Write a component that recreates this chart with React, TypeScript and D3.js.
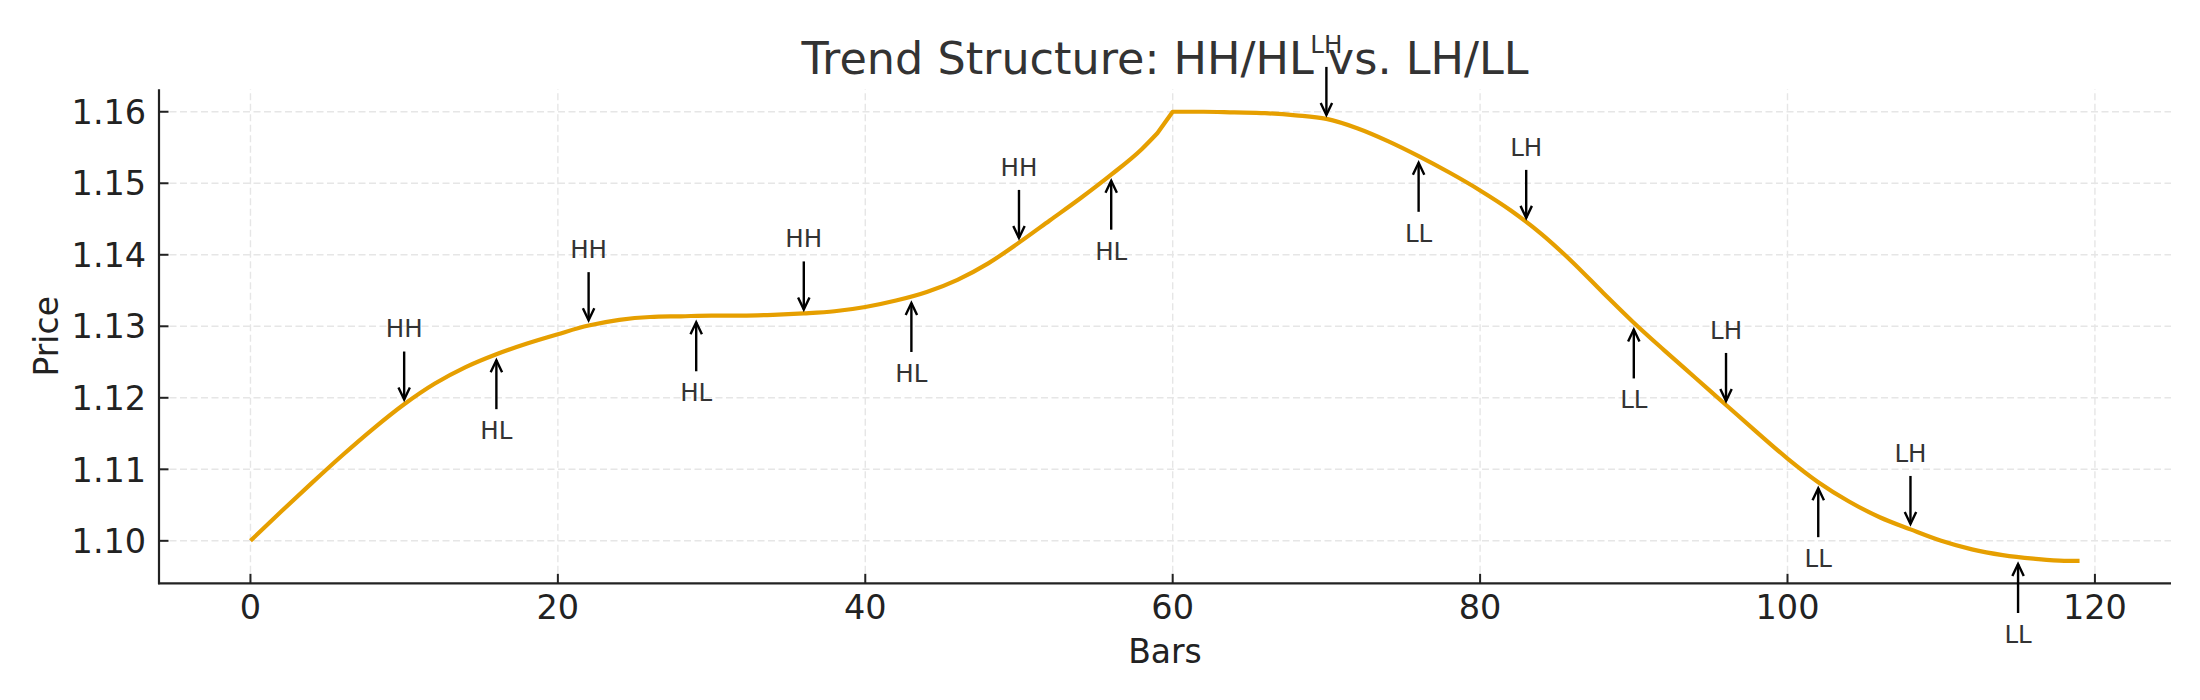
import { useEffect, useRef } from "react";
import * as d3 from "d3";

// Price series (bar index -> price)
const BARS = [
  0, 2, 4, 6, 8, 10, 12, 14, 16, 18, 20, 22, 24, 26, 28, 30, 32, 34, 36, 38,
  40, 42, 44, 46, 48, 50, 52, 54, 56, 58, 59,
  60, 62, 64, 66, 68, 70, 72, 74, 76, 78, 80, 82, 84, 86, 88, 90, 92, 94, 96,
  98, 100, 102, 104, 106, 108, 110, 112, 114, 116, 118, 119,
];
const PRICES = [
  1.1000, 1.1041, 1.1081, 1.1120, 1.1157, 1.1191, 1.1220, 1.1243, 1.1261, 1.1276,
  1.1289, 1.1301, 1.1309, 1.1313, 1.1314, 1.1315, 1.1315, 1.1316, 1.1318, 1.1321,
  1.1327, 1.1336, 1.1348, 1.1365, 1.1388, 1.1417, 1.1448, 1.1479, 1.1512, 1.1548, 1.1570,
  1.1600, 1.1600, 1.1599, 1.1598, 1.1595, 1.1590, 1.1577, 1.1559, 1.1538, 1.1515,
  1.1490, 1.1462, 1.1429, 1.1390, 1.1347, 1.1305, 1.1266, 1.1228, 1.1190,
  1.1152, 1.1115, 1.1082, 1.1055, 1.1033, 1.1016, 1.1000, 1.0988, 1.0980, 1.0975, 1.0972, 1.0972,
];
const PEAK_INDEX = 31; // bar 60, where the down leg starts

// Swing annotations
const PIVOT_BARS = [10, 16, 22, 29, 36, 43, 50, 56, 70, 76, 83, 90, 96, 102, 108, 115];
const PIVOT_LABELS = [
  "HH", "HL", "HH", "HL", "HH", "HL", "HH", "HL",
  "LH", "LL", "LH", "LL", "LH", "LL", "LH", "LL",
];
const PIVOT_PRICES = [
  1.1192, 1.1261, 1.1303, 1.1314, 1.1318, 1.1341, 1.1418, 1.1512,
  1.1590, 1.1537, 1.1446, 1.1304, 1.1190, 1.1082, 1.1018, 1.0976,
];

const X_TICKS = [0, 20, 40, 60, 80, 100, 120];
const Y_TICKS = [1.10, 1.11, 1.12, 1.13, 1.14, 1.15, 1.16];

const TITLE = "Trend Structure: HH/HL vs. LH/LL";
const X_LABEL = "Bars";
const Y_LABEL = "Price";

const W = 2200, H = 700;
const FONT = "'DejaVu Sans', 'Liberation Sans', sans-serif";
const LINE_COLOR = "#E69F00";

export default function App() {
  const svgRef = useRef<SVGSVGElement>(null);

  useEffect(() => {
    document.body.style.margin = "0";
    if (!svgRef.current) return;
    const svg = d3.select(svgRef.current);
    svg.selectAll("*").remove();

    const margin = { top: 89.3, right: W - 2171, bottom: H - 583.3, left: 159 };
    const x0 = margin.left, x1 = W - margin.right;
    const y0 = H - margin.bottom, y1 = margin.top;

    // matplotlib-style 5% autoscale margins
    const [bMin, bMax] = d3.extent(BARS) as [number, number];
    const [pMin, pMax] = d3.extent(PRICES) as [number, number];
    const bPad = (bMax - bMin) * 0.05, pPad = (pMax - pMin) * 0.05;

    const x = d3.scaleLinear().domain([bMin - bPad, bMax + bPad]).range([x0, x1]);
    const y = d3.scaleLinear().domain([pMin - pPad, pMax + pPad]).range([y0, y1]);

    // --- Grid ---
    const grid = svg.append("g").attr("stroke", "#e6e6e6").attr("stroke-width", 1.4)
      .attr("stroke-dasharray", "7,3.5");
    grid.selectAll("line.gx").data(X_TICKS).join("line")
      .attr("x1", (d) => x(d)).attr("x2", (d) => x(d)).attr("y1", y0).attr("y2", y1);
    grid.selectAll("line.gy").data(Y_TICKS).join("line")
      .attr("y1", (d) => y(d)).attr("y2", (d) => y(d)).attr("x1", x0).attr("x2", x1);

    // --- Price line: smooth legs joined by a straight segment at the peak ---
    const pts = BARS.map((b, i) => [b, PRICES[i]] as [number, number]);
    const leg = d3.line<[number, number]>()
      .x((d) => x(d[0])).y((d) => y(d[1]))
      .curve(d3.curveMonotoneX);
    const upPath = leg(pts.slice(0, PEAK_INDEX)) ?? "";
    const downPath = (leg(pts.slice(PEAK_INDEX)) ?? "").replace(/^M/, "L");
    svg.append("path")
      .attr("d", upPath + downPath)
      .attr("fill", "none")
      .attr("stroke", LINE_COLOR)
      .attr("stroke-width", 4.2)
      .attr("stroke-linejoin", "round");

    // --- Axes (left + bottom spines, inward ticks) ---
    const axisColor = "#222";
    svg.append("line").attr("x1", x0).attr("x2", x0).attr("y1", y1).attr("y2", y0 + 1)
      .attr("stroke", axisColor).attr("stroke-width", 2.2);
    svg.append("line").attr("x1", x0 - 1).attr("x2", x1).attr("y1", y0).attr("y2", y0)
      .attr("stroke", axisColor).attr("stroke-width", 2.2);

    const tickLen = 9.5;
    svg.append("g").selectAll("line").data(X_TICKS).join("line")
      .attr("x1", (d) => x(d)).attr("x2", (d) => x(d))
      .attr("y1", y0).attr("y2", y0 - tickLen)
      .attr("stroke", axisColor).attr("stroke-width", 2);
    svg.append("g").selectAll("line").data(Y_TICKS).join("line")
      .attr("y1", (d) => y(d)).attr("y2", (d) => y(d))
      .attr("x1", x0).attr("x2", x0 + tickLen)
      .attr("stroke", axisColor).attr("stroke-width", 2);

    const tickSize = 33.5;
    svg.append("g").selectAll("text").data(X_TICKS).join("text")
      .attr("x", (d) => x(d)).attr("y", 619)
      .attr("text-anchor", "middle")
      .attr("font-family", FONT).attr("font-size", tickSize).attr("fill", axisColor)
      .text((d) => d3.format("d")(d));
    svg.append("g").selectAll("text").data(Y_TICKS).join("text")
      .attr("x", x0 - 12.8).attr("y", (d) => y(d) + 12.2)
      .attr("text-anchor", "end")
      .attr("font-family", FONT).attr("font-size", tickSize).attr("fill", axisColor)
      .text((d) => d3.format(".2f")(d));

    // Axis labels
    svg.append("text")
      .attr("x", (x0 + x1) / 2).attr("y", 662.7)
      .attr("text-anchor", "middle")
      .attr("font-family", FONT).attr("font-size", 33).attr("fill", axisColor)
      .text(X_LABEL);
    svg.append("text")
      .attr("transform", `translate(58.3,${(y0 + y1) / 2}) rotate(-90)`)
      .attr("text-anchor", "middle")
      .attr("font-family", FONT).attr("font-size", 33).attr("fill", axisColor)
      .text(Y_LABEL);

    // Title
    svg.append("text")
      .attr("x", (x0 + x1) / 2).attr("y", 73.5)
      .attr("text-anchor", "middle")
      .attr("font-family", FONT).attr("font-size", 44.5).attr("fill", "#333")
      .text(TITLE);

    // --- Swing annotations ---
    const notes = PIVOT_BARS.map((b, i) => ({
      bar: b, label: PIVOT_LABELS[i], price: PIVOT_PRICES[i],
      above: PIVOT_LABELS[i].endsWith("H"),
    }));
    const noteSize = 24.5;
    const capHalf = noteSize * 0.729 / 2;
    const g = svg.append("g");
    notes.forEach((n) => {
      const cx = x(n.bar);
      const cy = y(n.price);
      const dir = n.above ? -1 : 1; // direction from the curve towards the label
      const tip = cy + dir * (n.above ? 4 : 6);
      const tail = cy + dir * (n.above ? 52 : 55);
      const textMid = cy + dir * (n.above ? 75 : 76);

      g.append("text")
        .attr("x", cx).attr("y", textMid + capHalf)
        .attr("text-anchor", "middle")
        .attr("font-family", FONT).attr("font-size", noteSize).attr("fill", "#333")
        .text(n.label);

      g.append("line")
        .attr("x1", cx).attr("x2", cx).attr("y1", tail).attr("y2", tip)
        .attr("stroke", "#000").attr("stroke-width", 2.4);
      const headLen = 12, headHalf = 5.7;
      const base = tip + dir * headLen;
      g.append("path")
        .attr("d", `M${cx - headHalf},${base}L${cx},${tip}L${cx + headHalf},${base}`)
        .attr("fill", "none").attr("stroke", "#000").attr("stroke-width", 2.4)
        .attr("stroke-linejoin", "miter");
    });
  }, []);

  return (
    <div style={{ width: W, height: H, background: "#fff" }}>
      <svg ref={svgRef} width={W} height={H} style={{ display: "block" }} />
    </div>
  );
}
